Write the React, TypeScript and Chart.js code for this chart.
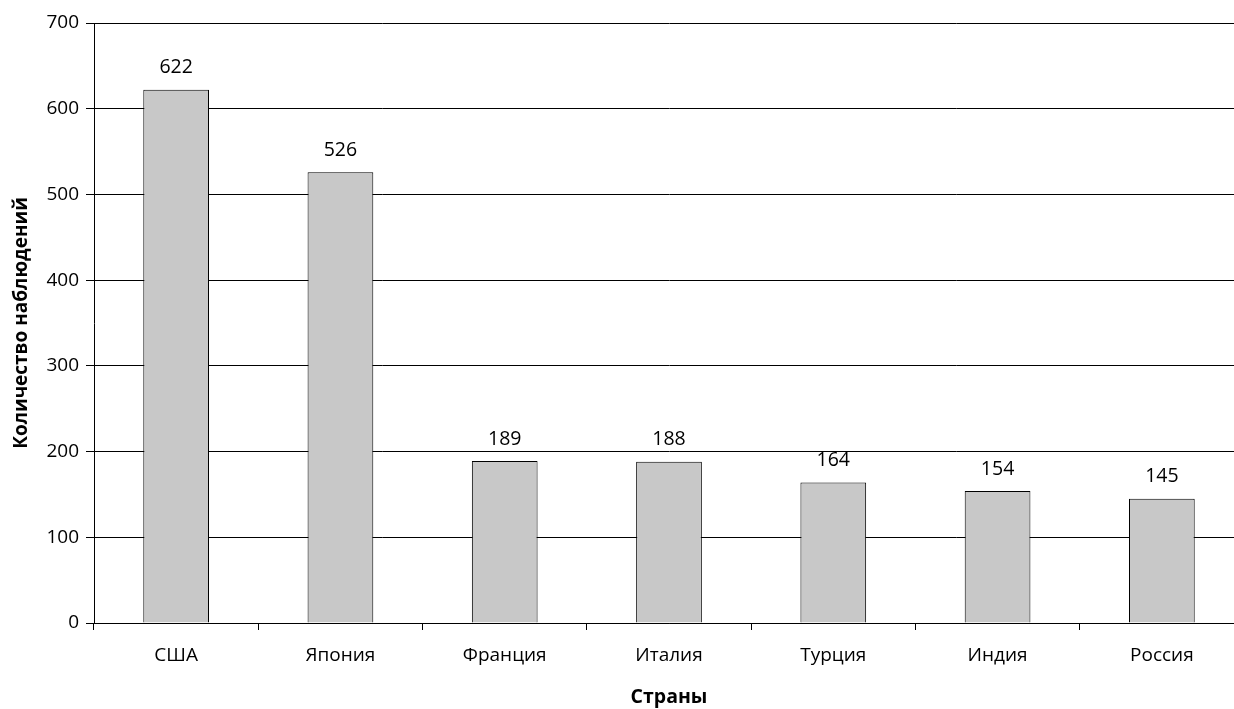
import React, { useEffect, useRef } from "react";
import { Chart, registerables } from "chart.js";

Chart.register(...registerables);

const countries = ["США", "Япония", "Франция", "Италия", "Турция", "Индия", "Россия"];
const observations = [622, 526, 189, 188, 164, 154, 145];
const yTicks = [0, 100, 200, 300, 400, 500, 600, 700];

const FONT = "'Open Sans', 'Noto Sans', sans-serif";

// Writes each bar's value above it
const valueLabels = {
  id: "valueLabels",
  afterDatasetsDraw(chart: any) {
    const { ctx } = chart;
    const meta = chart.getDatasetMeta(0);
    ctx.save();
    ctx.fillStyle = "#000";
    ctx.font = `19.5px ${FONT}`;
    ctx.textAlign = "center";
    ctx.textBaseline = "middle";
    meta.data.forEach((bar: any, i: number) => {
      ctx.fillText(String(observations[i]), bar.x, bar.y - 22);
    });
    ctx.restore();
  },
};

export default function App() {
  const ref = useRef<HTMLCanvasElement>(null);

  useEffect(() => {
    if (!ref.current) return;
    const chart = new Chart(ref.current, {
      type: "bar",
      data: {
        labels: countries,
        datasets: [
          {
            data: observations,
            backgroundColor: "#c8c8c8",
            borderColor: "#000",
            borderWidth: 1,
            categoryPercentage: 1,
            barPercentage: 0.4,
          },
        ],
      },
      options: {
        responsive: false,
        animation: false,
        devicePixelRatio: 1,
        layout: { padding: { top: 23, right: 0, left: 0, bottom: 0 } },
        plugins: {
          legend: { display: false },
          tooltip: { enabled: false },
        },
        scales: {
          x: {
            offset: true,
            grid: {
              offset: true,
              drawOnChartArea: false,
              drawTicks: true,
              tickLength: 7,
              color: "#000",
            },
            border: { color: "#000", width: 1 },
            ticks: {
              color: "#000",
              font: { family: FONT, size: 19 },
              padding: 14,
              maxRotation: 0,
            },
            title: {
              display: true,
              text: "Страны",
              color: "#000",
              font: { family: FONT, size: 19.5, weight: "bold" },
              padding: { top: 18, bottom: 0 },
            },
            afterFit(scale: any) {
              scale.height = 86;
            },
          },
          y: {
            min: 0,
            max: 700,
            afterBuildTicks(scale: any) {
              scale.ticks = yTicks.map((v) => ({ value: v }));
            },
            grid: {
              color: "#000",
              lineWidth: 1,
              drawTicks: true,
              tickLength: 8,
            },
            border: { color: "#000", width: 1 },
            ticks: {
              color: "#000",
              font: { family: FONT, size: 19 },
              padding: 7,
            },
            title: {
              display: true,
              text: "Количество наблюдений",
              color: "#000",
              font: { family: FONT, size: 19, weight: "bold" },
              padding: { top: 10, bottom: 4 },
            },
            afterFit(scale: any) {
              scale.width = 94;
            },
          },
        },
      },
      plugins: [valueLabels],
    });
    return () => chart.destroy();
  }, []);

  return (
    <div
      style={{
        position: "absolute",
        left: 0,
        top: 0,
        width: 1234,
        height: 709,
        overflow: "hidden",
        background: "#fff",
      }}
    >
      <canvas ref={ref} width={1244} height={709} style={{ width: 1244, height: 709 }} />
    </div>
  );
}
